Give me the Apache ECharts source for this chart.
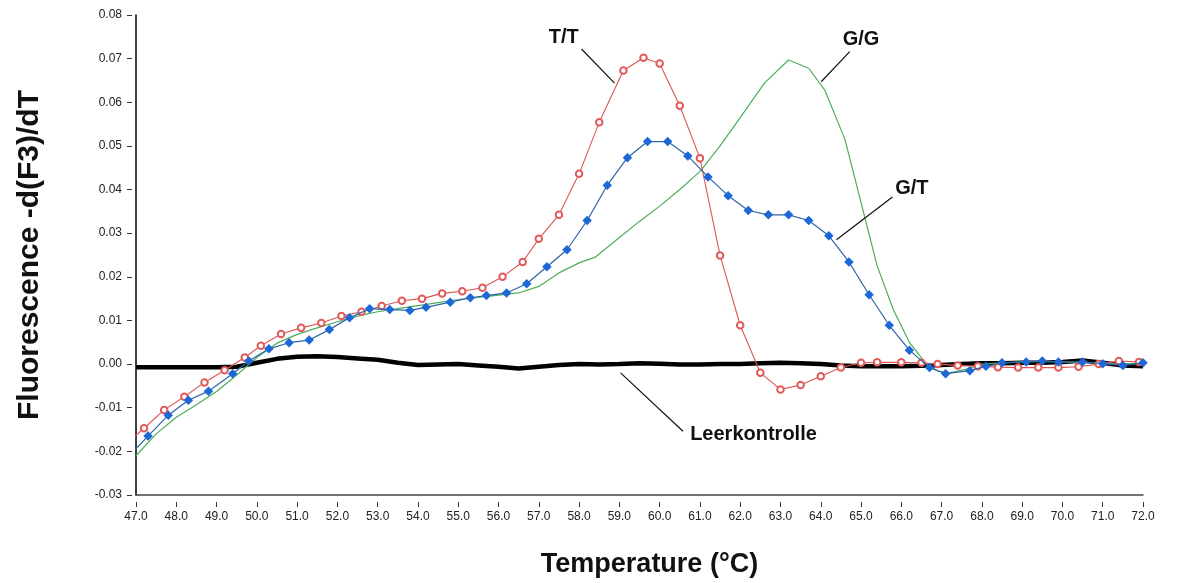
<!DOCTYPE html>
<html>
<head>
<meta charset="utf-8">
<script src="https://cdn.jsdelivr.net/npm/echarts@6/dist/echarts.min.js"></script>
<style>html,body{margin:0;padding:0;background:#fff}#c{width:1178px;height:583px}</style>
</head>
<body>
<div id="c"></div>
<script>
// ---- data ----
var tempTT = [46.7,47.2,47.7,48.2,48.7,49.2,49.7,50.1,50.6,51.1,51.6,52.1,52.6,53.1,53.6,54.1,54.6,55.1,55.6,56.1,56.6,57.0,57.5,58.0,58.5,59.1,59.6,60.0,60.5,61.0,61.5,62.0,62.5,63.0,63.5,64.0,64.5,65.0,65.4,66.0,66.5,66.9,67.4,67.9,68.4,68.9,69.4,69.9,70.4,70.9,71.4,71.9,72.4];
var valTT  = [-0.0187,-0.0147,-0.0105,-0.0075,-0.0042,-0.0014,0.0015,0.0042,0.0069,0.0083,0.0094,0.0110,0.0120,0.0133,0.0145,0.0150,0.0162,0.0167,0.0175,0.0200,0.0234,0.0287,0.0342,0.0436,0.0554,0.0673,0.0702,0.0689,0.0592,0.0472,0.0249,0.0089,-0.0020,-0.0058,-0.0048,-0.0028,-0.0008,0.0003,0.0004,0.0004,0.0003,0.0000,-0.0003,-0.0005,-0.0007,-0.0008,-0.0008,-0.0008,-0.0006,0.0000,0.0007,0.0005,0.0003];

var tempGT = [46.8,47.3,47.8,48.3,48.8,49.4,49.8,50.3,50.8,51.3,51.8,52.3,52.8,53.3,53.8,54.2,54.8,55.3,55.7,56.2,56.7,57.2,57.7,58.2,58.7,59.2,59.7,60.2,60.7,61.2,61.7,62.2,62.7,63.2,63.7,64.2,64.7,65.2,65.7,66.2,66.7,67.1,67.7,68.1,68.5,69.1,69.5,69.9,70.5,71.0,71.5,72.0];
var valGT  = [-0.0213,-0.0165,-0.0117,-0.0083,-0.0062,-0.0022,0.0007,0.0035,0.0049,0.0055,0.0079,0.0106,0.0127,0.0125,0.0123,0.0130,0.0142,0.0152,0.0157,0.0163,0.0184,0.0223,0.0262,0.0329,0.0410,0.0473,0.0510,0.0510,0.0477,0.0429,0.0386,0.0352,0.0342,0.0342,0.0329,0.0294,0.0234,0.0159,0.0089,0.0032,-0.0008,-0.0022,-0.0015,-0.0005,0.0003,0.0005,0.0007,0.0005,0.0005,0.0001,-0.0003,0.0003];

var tempGG = [47.0,47.5,48.0,48.5,49.0,49.5,50.0,50.5,51.0,51.5,52.0,52.5,53.0,53.5,54.0,54.5,55.0,55.5,56.0,56.5,57.0,57.5,58.0,58.4,59.0,59.5,60.0,60.5,61.0,61.5,62.0,62.6,63.2,63.7,64.1,64.6,65.0,65.4,65.8,66.2,66.6,66.9,67.2,67.6,68.0,68.5,69.0,69.5,70.0,70.5,71.0,71.5,72.0];
var valGG  = [-0.0210,-0.0160,-0.0122,-0.0093,-0.0063,-0.0025,0.0015,0.0048,0.0068,0.0083,0.0097,0.0110,0.0120,0.0127,0.0134,0.0141,0.0148,0.0153,0.0158,0.0163,0.0178,0.0209,0.0232,0.0245,0.0290,0.0327,0.0362,0.0400,0.0441,0.0500,0.0565,0.0644,0.0697,0.0678,0.0628,0.0515,0.0370,0.0225,0.0125,0.0050,0.0003,-0.0016,-0.0020,-0.0012,0.0000,0.0003,0.0005,0.0006,0.0005,0.0004,0.0002,0.0000,0.0002];

var tempLK = [47.0,48.0,49.0,49.5,50.0,50.5,51.0,51.5,52.0,52.5,53.0,53.5,54.0,54.5,55.0,55.5,56.0,56.5,57.0,57.5,58.0,58.5,59.0,59.5,60.0,60.5,61.0,61.5,62.0,62.5,63.0,63.5,64.0,64.5,65.0,65.5,66.0,66.5,67.0,67.5,68.0,68.5,69.0,69.5,70.0,70.5,71.0,71.5,72.0];
var valLK  = [-0.0007,-0.0007,-0.0007,-0.0006,0.0003,0.0012,0.0017,0.0018,0.0016,0.0013,0.0010,0.0003,-0.0002,-0.0001,0.0000,-0.0003,-0.0006,-0.0010,-0.0006,-0.0002,0.0000,-0.0001,0.0000,0.0002,0.0001,-0.0001,-0.0001,0.0000,0.0000,0.0002,0.0003,0.0002,0.0000,-0.0003,-0.0005,-0.0005,-0.0005,-0.0004,-0.0002,0.0000,0.0002,0.0002,0.0003,0.0003,0.0005,0.0008,0.0003,-0.0003,-0.0005];

var seriesNames = ['Leerkontrolle','G/G','T/T','G/T'];
var xTitle = 'Temperature (°C)';
var yTitle = 'Fluorescence -d(F3)/dT';

// annotation labels: text, text anchor [T, value], leader start, leader end
var annotText  = ['T/T','G/G','G/T','Leerkontrolle'];
var annotPos   = [[57.62,0.0749],[65.0,0.0743],[66.26,0.0403],[62.33,-0.0161]];
var annotFrom  = [[58.06,0.0722],[64.72,0.0716],[65.78,0.0383],[59.03,-0.0020]];
var annotTo    = [[58.88,0.0644],[64.01,0.0647],[64.39,0.0285],[60.58,-0.0154]];

function pairs(xs, ys){ return xs.map(function(x,i){ return [x, ys[i]]; }); }

var FONT = '"Liberation Sans", Arial, sans-serif';
var chart = echarts.init(document.getElementById('c'), null, {renderer:'canvas'});

var option = {
  animation: false,
  backgroundColor: '#ffffff',
  grid: {left: 136, right: 35, top: 15, bottom: 86, containLabel: false},
  xAxis: [
    {type:'value', min:47, max:72, interval:1, position:'bottom',
     axisLine:{show:true, onZero:false, lineStyle:{color:'#444', width:1.5}},
     axisTick:{show:false}, axisLabel:{show:false}, splitLine:{show:false},
     name: xTitle, nameLocation:'middle', nameGap:56,
     nameTextStyle:{fontFamily:FONT, fontSize:27, fontWeight:'bold', color:'#111', padding:[0,0,0,20]}},
    {type:'value', min:47, max:72, interval:1, position:'bottom', offset:7,
     axisLine:{show:false, onZero:false}, splitLine:{show:false},
     axisTick:{show:true, length:5, lineStyle:{color:'#333', width:1}},
     axisLabel:{show:true, margin:9, fontFamily:FONT, fontSize:12, color:'#222',
       formatter:function(v){ return v.toFixed(1); }}}
  ],
  yAxis: [
    {type:'value', min:-0.03, max:0.08, interval:0.01,
     axisLine:{show:true, onZero:false, lineStyle:{color:'#000', width:1.5}},
     axisTick:{show:false}, axisLabel:{show:false}, splitLine:{show:false},
     name: yTitle, nameLocation:'middle', nameGap:91,
     nameTextStyle:{fontFamily:FONT, fontSize:30, fontWeight:'bold', color:'#111'}},
    {type:'value', min:-0.03, max:0.08, interval:0.01, position:'left', offset:4,
     axisLine:{show:false, onZero:false}, splitLine:{show:false},
     axisTick:{show:true, length:5, lineStyle:{color:'#333', width:1}},
     axisLabel:{show:true, margin:10, fontFamily:FONT, fontSize:12, color:'#222',
       formatter:function(v){ return v.toFixed(2); }}}
  ],
  series: [
    {name:seriesNames[0], type:'line', data:pairs(tempLK, valLK), showSymbol:false, symbol:'none',
     lineStyle:{color:'#000', width:4.5}, z:2},
    {name:seriesNames[1], type:'line', data:pairs(tempGG, valGG), showSymbol:false, symbol:'none',
     lineStyle:{color:'#4caf58', width:1.2}, z:3},
    {name:seriesNames[2], type:'line', data:pairs(tempTT, valTT), symbol:'emptyCircle', symbolSize:6.5,
     itemStyle:{color:'#e05a5a', borderColor:'#e05a5a', borderWidth:1},
     lineStyle:{color:'#dd5555', width:1.1}, z:4},
    {name:seriesNames[3], type:'line', data:pairs(tempGT, valGT), symbol:'diamond', symbolSize:9.5,
     itemStyle:{color:'#1c68d6', borderWidth:0},
     lineStyle:{color:'#2e64a8', width:1.2}, z:5}
  ]
};
chart.setOption(option);

var g = [];
for (var i = 0; i < annotText.length; i++) {
  var p = chart.convertToPixel({gridIndex:0}, annotPos[i]);
  var a = chart.convertToPixel({gridIndex:0}, annotFrom[i]);
  var b = chart.convertToPixel({gridIndex:0}, annotTo[i]);
  g.push({type:'line', z:50, shape:{x1:a[0], y1:a[1], x2:b[0], y2:b[1]}, style:{stroke:'#111', lineWidth:1.2}});
  g.push({type:'text', z:50, x:p[0], y:p[1], style:{text:annotText[i], fontFamily:FONT, fontSize:20, fontWeight:'bold',
    fill:'#111', align:'center', verticalAlign:'middle'}});
}
chart.setOption({graphic: g});
</script>
</body>
</html>
